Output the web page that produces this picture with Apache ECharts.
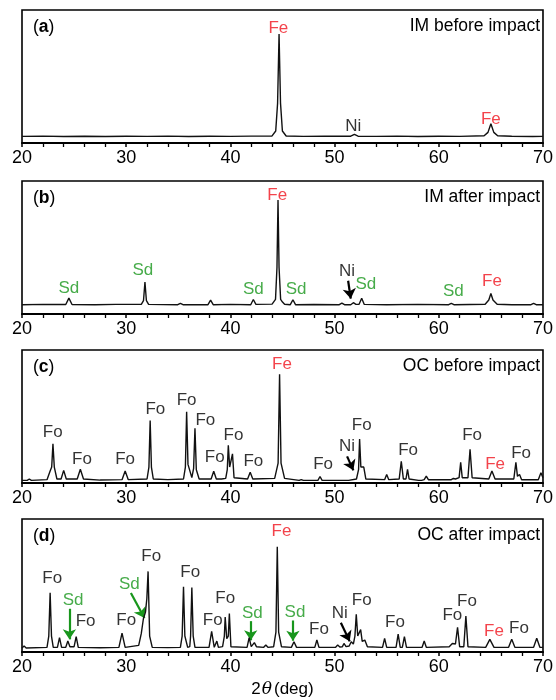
<!DOCTYPE html>
<html>
<head>
<meta charset="utf-8">
<script src="https://cdn.jsdelivr.net/npm/echarts@6/dist/echarts.min.js"></script>
<style>
html,body{margin:0;padding:0;background:#fff;}
#chart{width:556px;height:700px;}
</style>
</head>
<body>
<div id="chart"></div>
<script>
// x ticks (2θ, deg)
const xTicks = [20, 30, 40, 50, 60, 70];

// Panel titles
const panelLetters = ['a', 'b', 'c', 'd'];
const panelTitles = ['IM before impact', 'IM after impact', 'OC before impact', 'OC after impact'];

// Diffraction patterns [2θ, relative intensity (% of panel height)]
const patternA = [[20,5],[22,5.2],[24,4.9],[26,5.1],[28,4.9],[30,5.1],[32,5],[34,5.2],[36,4.9],[38,5.1],[40,5],[42,5.2],[44.0,5.3],[44.35,9],[44.53,30],[44.67,82],[44.81,30],[44.99,9],[45.35,5.3],[47,5],[49,5.1],[51.55,5.1],[51.9,6.4],[52.25,5.1],[54,5],[56,5.2],[58,4.9],[60,5.1],[62,5],[64.35,5.4],[64.72,8],[65.0,14.5],[65.28,8],[65.65,5.4],[67,5.1],[69,4.9],[70,5]];

const patternB = [[20,7],[22,7.2],[24.2,7.1],[24.5,11.9],[24.8,7.1],[27,7],[29,7.2],[31.45,7.2],[31.66,10],[31.8,24.1],[31.94,10],[32.15,7.2],[34.95,7],[35.2,8],[35.45,7],[37.85,7],[38.1,10.4],[38.35,7],[40,7.2],[41.95,7],[42.2,10.9],[42.45,7.2],[44.0,7.4],[44.33,11],[44.47,35],[44.57,85.8],[44.67,35],[44.82,11],[45.0,9],[45.2,7.3],[45.75,7],[46.0,10.7],[46.25,7],[48,7.1],[50.45,7],[50.7,8.2],[50.95,7],[51.55,7],[51.8,8.5],[52.05,7.2],[52.35,7.3],[52.6,11.9],[52.85,7.2],[55,7],[58,7.2],[60.95,7],[61.2,8],[61.45,7],[64.45,7.3],[64.8,10.5],[65.0,15.4],[65.2,10.5],[65.6,7.3],[67,7],[68.85,7],[69.1,8],[69.35,7],[70,7]];

const patternC = [[20,2],[20.5,2],[20.7,3],[20.9,2],[22.4,2.5],[22.7,9],[22.85,12],[22.97,29.4],[23.1,12],[23.35,3],[23.75,3],[24.0,9.5],[24.25,3],[25.3,3],[25.6,10.3],[25.9,3],[27.5,2.2],[29.6,2.5],[29.9,9],[30.2,2.5],[32.0,3],[32.18,12],[32.3,46.9],[32.42,12],[32.6,3],[34,2.5],[35.5,3],[35.68,12],[35.8,53.6],[35.93,14],[36.3,4],[36.47,11],[36.6,41.2],[36.73,10],[37.0,3],[38.15,3],[38.4,8.8],[38.65,3],[38.85,3],[39.0,4.4],[39.15,3],[39.55,3.5],[39.7,10],[39.8,28.4],[39.93,12],[40.07,12],[40.2,21.9],[40.35,4],[41.65,3],[41.9,8],[42.15,3],[44.25,3.5],[44.58,15],[44.72,81.7],[44.86,15],[45.2,3.5],[46.6,2],[46.8,2.6],[47.0,2],[48.4,2],[48.6,4.9],[48.8,2],[50.35,2],[50.5,3],[50.65,2],[51.05,2],[51.2,3],[51.35,2],[52.1,3],[52.3,10],[52.4,33],[52.52,12],[52.8,12],[53.0,3],[54.8,2.5],[55.0,6.4],[55.2,2.5],[56.2,3],[56.4,16.2],[56.6,3],[56.85,3],[57.0,10.3],[57.15,3],[58.05,2],[58.2,3],[58.35,2],[58.6,2.5],[58.8,5.2],[59.0,2.5],[61.2,2.5],[61.4,3.4],[61.6,3],[61.95,4],[62.1,15.5],[62.25,4],[62.8,4],[63.0,25.3],[63.2,4],[64.8,3],[65.1,9],[65.4,3],[67.2,3],[67.4,15.5],[67.55,5],[67.75,6.4],[67.95,2.5],[69.55,2.5],[69.8,7.7],[70,4]];

const patternD = [[20,3],[20.2,4.5],[20.4,3],[22.4,3.5],[22.57,12],[22.7,44.6],[22.83,12],[23.0,3.5],[23.4,3.5],[23.6,10.8],[23.8,3.5],[24.2,3.5],[24.4,8.2],[24.6,4],[25.0,4],[25.2,11.6],[25.4,3.5],[27.5,3.2],[29.3,3.5],[29.6,14.2],[29.9,3.5],[31.2,5],[31.45,14],[31.65,25],[31.85,30],[31.98,40],[32.1,60.6],[32.25,12],[32.5,3.5],[34,3.3],[35.2,3.5],[35.37,12],[35.5,49],[35.63,12],[35.9,3.5],[36.1,4],[36.18,12],[36.3,48.5],[36.43,12],[36.6,3.5],[37.95,3.5],[38.2,15.5],[38.45,3.5],[38.55,3.5],[38.7,8.2],[38.85,3.5],[39.25,4],[39.42,12],[39.5,26.3],[39.65,10],[39.8,12],[39.9,28.9],[40.05,4],[41.6,3.5],[41.8,10.8],[42.0,4],[42.15,4],[42.3,7],[42.5,4],[43.2,3.5],[43.4,5.2],[43.6,3.5],[44.15,4],[44.37,15],[44.5,79.1],[44.63,15],[44.9,4],[45.85,3.5],[46.1,7.7],[46.35,3.5],[48.1,3.5],[48.3,9],[48.5,3.5],[50.1,3.5],[50.3,5.2],[50.5,3.8],[50.75,4],[50.9,6.4],[51.1,4],[51.4,4.5],[51.6,7.7],[51.8,6],[51.95,12],[52.08,28.4],[52.22,12],[52.4,12],[52.5,16.8],[52.65,8],[52.9,9],[53.15,4],[54.6,3.5],[54.8,10.3],[55.0,3.5],[55.9,3.5],[56.1,13.4],[56.3,3.5],[56.5,3.5],[56.7,11.6],[56.9,3.5],[58.4,3.5],[58.6,8.2],[58.8,3.5],[61.0,4],[61.3,6.4],[61.6,6],[61.8,18.6],[62.0,4],[62.4,4],[62.6,27],[62.8,4],[64.5,3.5],[64.9,9.5],[65.3,3.5],[66.7,3.5],[67.0,9.5],[67.3,3.5],[69.1,3.5],[69.4,10.3],[69.7,3.5],[70,3.5]];

// Phase labels [2θ, height %, phase]
const labelsA = [[44.6,86,'Fe'],[51.8,12.5,'Ni'],[65.0,18,'Fe']];
const labelsB = [[24.5,19.4,'Sd'],[31.6,33,'Sd'],[42.2,18.2,'Sd'],[44.5,89,'Fe'],[46.3,18.2,'Sd'],[51.2,32.3,'Ni'],[53.0,22.4,'Sd'],[61.4,16.9,'Sd'],[65.1,24.4,'Fe']];
const labelsC = [[22.95,37.9,'Fo'],[25.75,17.5,'Fo'],[29.9,18,'Fo'],[32.8,55.4,'Fo'],[35.8,62.4,'Fo'],[37.6,46.9,'Fo'],[38.5,19.3,'Fo'],[40.3,35.6,'Fo'],[42.2,16.2,'Fo'],[44.95,89.4,'Fe'],[48.9,13.7,'Fo'],[51.2,27.8,'Ni'],[52.6,43.3,'Fo'],[57.05,24.5,'Fo'],[63.2,35.6,'Fo'],[65.4,14.2,'Fe'],[67.9,22.4,'Fo']];
const labelsD = [[22.9,55.4,'Fo'],[24.9,39.2,'Sd'],[26.1,23.2,'Fo'],[30.0,24,'Fo'],[30.3,50.8,'Sd'],[32.4,72.2,'Fo'],[36.15,59.8,'Fo'],[38.3,24,'Fo'],[39.5,40,'Fo'],[42.1,28.9,'Sd'],[44.9,90.7,'Fe'],[46.2,29.6,'Sd'],[48.5,16.8,'Fo'],[50.5,28.9,'Ni'],[52.6,38.7,'Fo'],[55.8,22.4,'Fo'],[61.3,27.6,'Fo'],[62.7,37.9,'Fo'],[65.3,15.5,'Fe'],[67.7,18,'Fo']];

// Arrows [x1, y1, x2, y2, phase]
const arrowsA = [];
const arrowsB = [[51.3,25,51.55,11.5,'Ni']];
const arrowsC = [[51.2,20,51.8,9.5,'Ni']];
const arrowsD = [[24.55,32.5,24.55,9.5,'Sd'],[30.45,44.3,31.75,25.5,'Sd'],[41.95,23.2,41.95,8.8,'Sd'],[46.0,23.7,46.0,8.5,'Sd'],[50.6,22,51.45,8,'Ni']];

const patterns = [patternA, patternB, patternC, patternD];
const labelSets = [labelsA, labelsB, labelsC, labelsD];
const arrowSets = [arrowsA, arrowsB, arrowsC, arrowsD];

const phaseColor = {Fe: '#f0141e', Sd: '#18961c', Fo: '#000000', Ni: '#000000'};
const FONT = "'Liberation Sans', Arial, sans-serif";
const FS = 17;      // peak labels
const FS_T = 17.5;  // panel titles
const FS_AX = 18;   // tick labels / axis name

const gridTops = [10, 181, 350, 519];
const gridH = 133;
const gridLeft = 22, gridRight = 10;

const grids = [], xAxes = [], yAxes = [], series = [], graphics = [];
gridTops.forEach((top, i) => {
  grids.push({left: gridLeft, right: gridRight, top: top, height: gridH, show: true, borderColor: '#000', borderWidth: 1.6, backgroundColor: 'transparent'});
  const xa = {
    gridIndex: i, type: 'value', min: xTicks[0], max: xTicks[xTicks.length - 1], interval: 10,
    axisLine: {show: true, onZero: false, lineStyle: {color: '#000', width: 2}},
    axisTick: {show: true, inside: false, length: 4, lineStyle: {color: '#000', width: 1.5}},
    minorTick: {show: true, splitNumber: 5, length: 4, lineStyle: {color: '#000', width: 1.3}},
    axisLabel: {show: true, color: '#000', fontSize: FS_AX, fontFamily: FONT, margin: 6},
    splitLine: {show: false}
  };
  if (i === 3) {
    xa.name = '{n|2}{i|θ}{n|(deg)}';
    xa.nameLocation = 'middle';
    xa.nameGap = 29;
    xa.nameTextStyle = {color: '#000', fontSize: FS, fontFamily: FONT,
      rich: {n: {fontSize: FS, fontFamily: FONT, color: '#000'}, i: {fontSize: FS, fontStyle: 'italic', fontFamily: "'DejaVu Serif', serif", color: '#000', padding: [0, 2, 0, 1]}}};
  }
  xAxes.push(xa);
  yAxes.push({gridIndex: i, type: 'value', min: 0, max: 100, show: false, splitLine: {show: false}});

  series.push({
    type: 'line', xAxisIndex: i, yAxisIndex: i, data: patterns[i],
    showSymbol: false, symbol: 'none', smooth: false,
    lineStyle: {color: '#111', width: 1.4}, silent: true
  });
  series.push({
    type: 'scatter', xAxisIndex: i, yAxisIndex: i, symbolSize: 1, silent: true,
    itemStyle: {color: 'rgba(0,0,0,0)'},
    data: labelSets[i].map(d => ({
      value: [d[0], d[1]],
      label: {show: true, position: 'inside', formatter: d[2], color: phaseColor[d[2]], fontSize: FS, fontFamily: FONT}
    }))
  });
  arrowSets[i].forEach(a => {
    series.push({
      type: 'lines', coordinateSystem: 'cartesian2d', xAxisIndex: i, yAxisIndex: i, silent: true,
      symbol: ['none', 'arrow'], symbolSize: 10,
      lineStyle: {color: phaseColor[a[4]], width: 2.2, opacity: 1},
      data: [{coords: [[a[0], a[1]], [a[2], a[3]]]}]
    });
  });
  graphics.push({
    type: 'text', x: 33, y: top + 17.5, silent: true,
    style: {text: '({b|' + panelLetters[i] + '})', fill: '#000', fontSize: FS_T, fontFamily: FONT, verticalAlign: 'middle',
      rich: {b: {fontWeight: 'bold', fontSize: FS_T, fontFamily: FONT, fill: '#000'}}}
  });
  graphics.push({
    type: 'text', x: 540, y: top + 16.5, silent: true,
    style: {text: panelTitles[i], fill: '#000', fontSize: FS_T, fontFamily: FONT, align: 'right', verticalAlign: 'middle'}
  });
});

const chart = echarts.init(document.getElementById('chart'), null, {renderer: 'canvas'});
chart.setOption({
  animation: false,
  backgroundColor: '#fff',
  grid: grids, xAxis: xAxes, yAxis: yAxes, series: series, graphic: graphics
});
</script>
</body>
</html>
